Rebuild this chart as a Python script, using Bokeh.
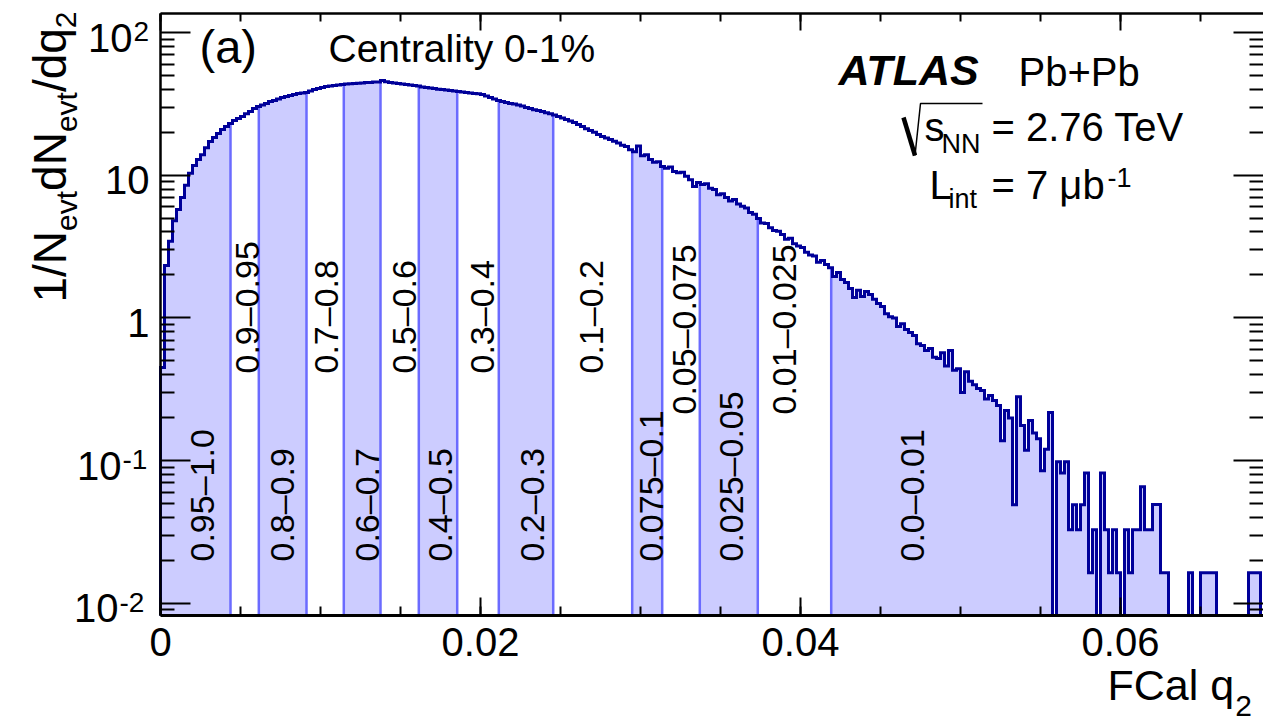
import math
from bokeh.plotting import figure
from bokeh.models import Range1d, FixedTicker, LinearAxis, LogAxis, Label, CustomJSTickFormatter
from bokeh.embed import file_html
from bokeh.resources import INLINE

# ---------------- data ----------------
bin_width = 0.00025
hist_values = [
    0.45, 2.33, 3.45, 4.8, 5.75, 6.98, 8.5, 10.3, 11.7, 12.9,
    13.9, 15.6, 17.2, 18.4, 19.6, 20.9, 21.9, 23.0, 24.2, 25.0,
    25.8, 27.0, 27.9, 29.3, 30.3, 31.0, 31.8, 32.9, 33.4, 34.2,
    35.0, 35.6, 36.2, 36.8, 37.4, 37.7, 38.0, 38.9, 39.9, 40.5,
    41.1, 41.8, 42.1, 42.5, 42.8, 43.2, 43.6, 43.7, 43.9, 44.1,
    44.3, 44.6, 44.6, 44.9, 45.0, 46.0, 45.2, 44.6, 44.3, 43.9,
    43.6, 43.2, 42.8, 42.5, 42.1, 41.5, 41.1, 40.8, 40.5, 40.1,
    39.9, 39.5, 39.2, 38.9, 38.6, 38.3, 38.0, 37.7, 37.4, 37.2,
    36.8, 35.9, 35.0, 34.2, 33.4, 32.9, 32.3, 31.8, 31.5, 31.0,
    30.5, 29.8, 29.3, 28.8, 28.4, 27.9, 27.4, 27.0, 26.4, 25.8,
    25.2, 24.6, 24.0, 23.4, 22.7, 21.9, 21.2, 20.6, 20.0, 19.3,
    18.7, 18.2, 17.8, 17.3, 16.8, 16.2, 15.9, 15.1, 14.6, 16.0,
    13.7, 13.9, 12.9, 12.3, 12.4, 11.5, 11.2, 11.4, 10.6, 10.4,
    10.5, 9.84, 9.3, 8.33, 8.9, 8.6, 8.7, 8.1, 7.94, 7.3,
    7.41, 6.98, 6.6, 6.75, 6.28, 6.05, 5.9, 5.48, 5.32, 4.97,
    4.62, 4.59, 4.28, 4.10, 4.04, 3.84, 3.56, 3.62, 3.31, 3.19,
    3.12, 2.89, 2.76, 2.72, 2.45, 2.52, 2.37, 2.25, 1.95, 2.08,
    1.86, 1.77, 1.61, 1.39, 1.56, 1.41, 1.53, 1.46, 1.35, 1.26,
    1.20, 1.07, 1.02, 1.00, 0.87, 0.91, 0.83, 0.79, 0.753, 0.66,
    0.64, 0.59, 0.61, 0.53, 0.52, 0.57, 0.46, 0.59, 0.43, 0.44,
    0.30, 0.42, 0.36, 0.34, 0.32, 0.31, 0.27, 0.286, 0.264, 0.243,
    0.138, 0.224, 0.199, 0.049, 0.28, 0.176, 0.118, 0.191, 0.156, 0.142,
    0.085, 0.12, 0.217, 0.0, 0.098, 0.082, 0.098, 0.0328, 0.049, 0.0328,
    0.049, 0.082, 0.0164, 0.0328, 0.0, 0.082, 0.0328, 0.0164, 0.0328, 0.0164,
    0.0, 0.0328, 0.0164, 0.0328, 0.0328, 0.0656, 0.0328, 0.0328, 0.0492, 0.0492,
    0.0164, 0.0164, 0.0, 0.0, 0.0, 0.0, 0.0, 0.0164, 0.0, 0.0,
    0.0164, 0.0164, 0.0164, 0.0164, 0.0, 0.0, 0.0, 0.0, 0.0, 0.0,
    0.0, 0.0, 0.0164, 0.0164, 0.0164, 0.0,
]
# quantile boundaries in FCal q2 (band edges)
band_edges = [0.004375, 0.006145, 0.009125, 0.011456, 0.01375, 0.016144, 0.018544,
              0.021144, 0.024544, 0.029481, 0.031356, 0.033706, 0.037331, 0.041919]
band_labels = ["0.95–1.0", "0.9–0.95", "0.8–0.9", "0.7–0.8", "0.6–0.7", "0.5–0.6",
               "0.4–0.5", "0.3–0.4", "0.2–0.3", "0.1–0.2", "0.075–0.1", "0.05–0.075",
               "0.025–0.05", "0.01–0.025", "0.0–0.01"]
x_ticks = [0.0, 0.02, 0.04, 0.06]
x_tick_labels = ["0", "0.02", "0.04", "0.06"]
y_ticks = [100, 10, 1, 0.1, 0.01]
y_tick_base = ["10", "10", "1", "10", "10"]
y_tick_exp = ["2", "", "", "-1", "-2"]

# ---------------- geometry (picture pixels -> data) ----------------
W, H = 1263, 726
AX_L, AX_R, AX_T, AX_B = 160, 1263, 13, 615   # plotting box in pixels
PX_PER_X = 16000.0
PX_PER_DECADE = 142.7
BL = 0.35  # baseline correction (fraction of font size)

def dx(px):
    return (px - AX_L) / PX_PER_X

def dy(py):
    return 10 ** (2 - (py - 32) / PX_PER_DECADE)

Y_BOT, Y_TOP = dy(AX_B), dy(AX_T)
X_END = dx(AX_R)
FLOOR = Y_BOT

FONT = "Liberation Sans"
AW = {'1': 556, '/': 278, 'N': 722, 'e': 556, 'v': 500, 't': 278, 'd': 556, 'q': 556,
      '2': 556, 'F': 611, 'C': 722, 'a': 556, 'l': 222, ' ': 278}

def tw(s, size):
    return sum(AW.get(c, 556) for c in s) / 1000.0 * size

p = figure(width=W, height=H, x_range=Range1d(dx(0), dx(W)), y_range=Range1d(dy(H), dy(0)),
           y_axis_type="log", output_backend="svg", toolbar_location=None,
           min_border=0, min_border_left=0, min_border_right=0, min_border_top=0,
           min_border_bottom=0)
p.xgrid.visible = False
p.ygrid.visible = False
p.outline_line_color = None
p.background_fill_color = "white"
p.border_fill_color = "white"

x_minor = [0.005 * k for k in range(15) if 0.005 * k <= X_END]
y_minor = [m * 10.0 ** e for e in range(-3, 3) for m in range(2, 10) if Y_BOT <= m * 10.0 ** e <= Y_TOP]
xt = FixedTicker(ticks=x_ticks, minor_ticks=x_minor)
yt = FixedTicker(ticks=y_ticks, minor_ticks=y_minor)
empty = CustomJSTickFormatter(code="return ''")

def style_axis(ax, ticker, major, minor, lw, loc, bounds):
    ax.ticker = ticker
    ax.formatter = empty
    ax.major_label_text_font_size = "0px"
    ax.major_label_standoff = 0
    ax.axis_label = None
    ax.major_tick_in = major
    ax.major_tick_out = 0
    ax.minor_tick_in = minor
    ax.minor_tick_out = 0
    ax.major_tick_line_width = 2
    ax.minor_tick_line_width = 2
    ax.major_tick_line_color = "black"
    ax.minor_tick_line_color = "black"
    ax.axis_line_width = lw
    ax.axis_line_color = "black"
    ax.fixed_location = loc
    ax.bounds = bounds

style_axis(p.xaxis[0], xt, 18, 9, 3, Y_BOT, (0.0, X_END))
style_axis(p.yaxis[0], yt, 30, 14, 2.5, 0.0, (Y_BOT, Y_TOP))
ta = LinearAxis()
style_axis(ta, xt, 17, 8, 2.5, Y_TOP, (0.0, X_END))
p.add_layout(ta, "above")
ra = LogAxis()
style_axis(ra, yt, 30, 14, 2.5, X_END, (Y_BOT, Y_TOP))
ra.axis_line_color = None
p.add_layout(ra, "right")

# ---------------- histogram ----------------
n = len(hist_values)
edges = [i * bin_width for i in range(n + 1)]

def cl(v):
    return v if v > FLOOR else FLOOR

def val_at(x):
    i = min(int(x / bin_width), n - 1)
    return cl(hist_values[i])

bands = [(0.0, band_edges[0])] + [(band_edges[k], band_edges[k + 1]) for k in range(1, 13, 2)] \
        + [(band_edges[13], min(edges[-1], X_END))]
pxs, pys = [], []
for lo, hi in bands:
    xs, ys = [lo], [FLOOR]
    for i in range(n):
        a = max(edges[i], lo)
        b = min(edges[i + 1], hi)
        if b <= a:
            continue
        v = cl(hist_values[i])
        xs += [a, b]
        ys += [v, v]
    xs.append(hi)
    ys.append(FLOOR)
    pxs.append(xs)
    pys.append(ys)
p.patches(pxs, pys, fill_color="#ccccff", line_color=None)

p.segment(x0=band_edges, y0=[FLOOR] * len(band_edges), x1=band_edges,
          y1=[val_at(b) for b in band_edges], line_color="#6b6bff", line_width=2.5)

sx, sy = [0.0], [FLOOR]
for i in range(n):
    if edges[i] >= X_END:
        break
    sx += [edges[i], min(edges[i + 1], X_END)]
    sy += [cl(hist_values[i])] * 2
p.line(sx, sy, line_color="#000099", line_width=3, line_join="miter")

# ---------------- texts ----------------
def lab(text, px, py, size, align="left", angle=0.0, style="normal"):
    # (px, py): start of the text baseline in picture pixels
    if angle:
        px = px - BL * size
    else:
        py = py - BL * size
    p.add_layout(Label(x=dx(px), y=dy(py), text=text, text_font=FONT,
                       text_font_size=f"{size}px", text_align=align,
                       text_baseline="alphabetic", angle=angle,
                       text_font_style=style, text_color="black"))

# band labels (rotated)
lab_px = [213, 258, 293, 337, 378, 415, 451, 493, 543, 602, 662, 695, 742, 795, 923]
lab_py = [561, 373, 561, 373, 561, 373, 561, 373, 561, 373, 561, 414, 561, 414, 561]
for t, x, y in zip(band_labels, lab_px, lab_py):
    lab(t, x, y, 34, angle=math.pi / 2)

# x tick labels
for t, s in zip(x_ticks, x_tick_labels):
    lab(s, AX_L + t * PX_PER_X, 655, 40, align="center")

# y tick labels
tick_py = [32 + PX_PER_DECADE * (2 - math.log10(v)) for v in y_ticks]
base_right = [132, 149, 149, 121, 118]
for b, e, ty, br in zip(y_tick_base, y_tick_exp, tick_py, base_right):
    lab(b, br, ty + 19, 40, align="right")
    if e:
        lab(e, br + 1, ty + 9, 28)

# y title (rotated)
ypos = 302
for txt, sub in [("1/N", False), ("evt", True), ("dN", False), ("evt", True), ("/dq", False), ("2", True)]:
    size = 30 if sub else 46
    lab(txt, 76 if sub else 66, ypos, size, angle=math.pi / 2)
    ypos -= tw(txt, size)

# x title
lab("FCal q", 1107, 700, 43)
lab("2", 1107 + tw("FCal q", 43) + 1, 716, 30)

lab("(a)", 199, 62, 47)
lab("Centrality 0-1%", 328, 62, 39)
lab("ATLAS", 838, 85, 43, style="bold italic")
lab("Pb+Pb", 1018, 85, 40)
# radical sign of sqrt(s_NN)
p.line([dx(903), dx(914.5)], [dy(117), dy(155)], line_color="black", line_width=4.5)
p.line([dx(914.5), dx(920), dx(982)], [dy(155), dy(103), dy(103)], line_color="black", line_width=1.5)
lab("s", 924, 140, 40)
lab("NN", 941, 153, 27)
lab("= 2.76 TeV", 991, 140, 40)
lab("L", 929, 198, 40)
lab("int", 948, 208, 27)
lab("= 7 μb", 991, 198, 40)
lab("-1", 1107, 186, 27)

open("out.html", "w").write(file_html(p, INLINE))
